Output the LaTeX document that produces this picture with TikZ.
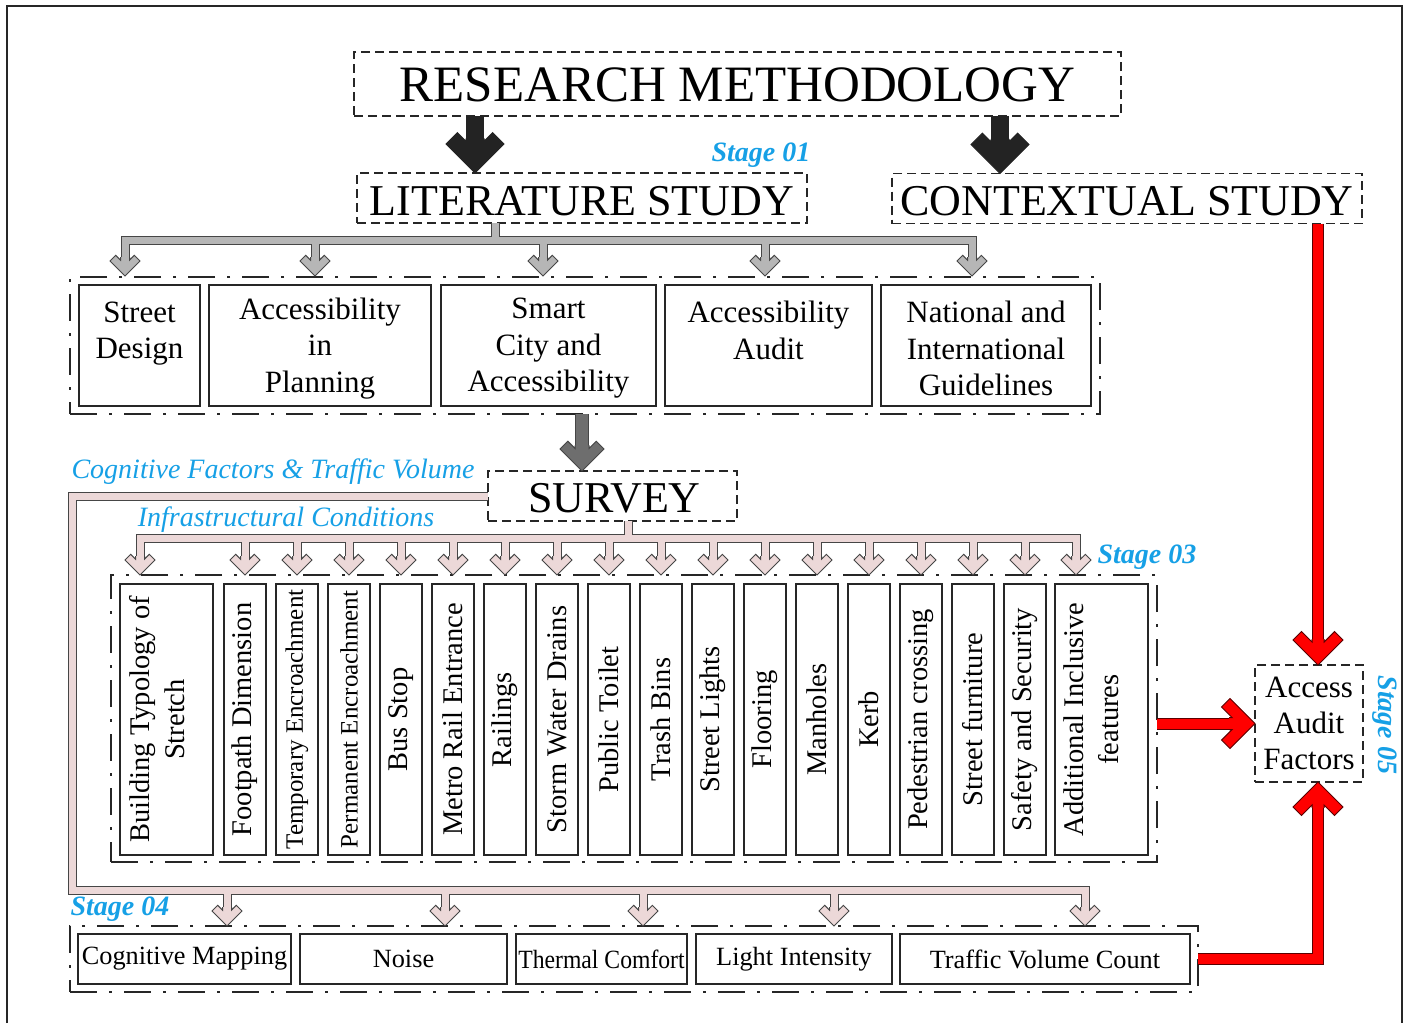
\documentclass[tikz,border=0pt]{standalone}
\usepackage{fontspec}
\setmainfont{Liberation Serif}
\usepackage{graphicx}
\usetikzlibrary{calc}
\definecolor{stageblue}{RGB}{22,160,230}
\definecolor{grayfill}{RGB}{182,182,182}
\definecolor{darkfill}{RGB}{110,110,110}
\definecolor{pinkfill}{RGB}{236,216,216}
\definecolor{outl}{RGB}{70,70,70}
\definecolor{redfill}{RGB}{255,0,0}
\definecolor{redline}{RGB}{90,0,0}
\definecolor{blk}{RGB}{35,35,35}
\tikzset{
  pics/chev/.style n args={5}{code={%
    \pgfmathsetmacro\chH{#1}%
    \pgfmathsetmacro\chQ{#2/sqrt(2)}%
    \pgfmathsetmacro\chS{#3/2}%
    \pgfmathsetmacro\chN{#2*sqrt(2)+#3/2}%
    \pgfmathsetmacro\chT{\chN+3}%
    \fill[#4] (-\chS,-\chT) -- (-\chS,-\chN) -- ({-\chH+\chQ},{-\chH-\chQ}) -- (-\chH,-\chH) -- (0,0) -- (\chH,-\chH) -- ({\chH-\chQ},{-\chH-\chQ}) -- (\chS,-\chN) -- (\chS,-\chT) -- cycle;
    \draw[#5,line width=1pt,line join=miter] (-\chS,-\chT) -- (-\chS,-\chN) -- ({-\chH+\chQ},{-\chH-\chQ}) -- (-\chH,-\chH) -- (0,0) -- (\chH,-\chH) -- ({\chH-\chQ},{-\chH-\chQ}) -- (\chS,-\chN) -- (\chS,-\chT);
  }},
  dbox/.style={draw=black!85, dash pattern=on 9pt off 5pt, line width=1.5pt, inner sep=0pt},
  ddbox/.style={draw=black!85, dash pattern=on 27pt off 12pt on 3pt off 12pt, line width=1.8pt, inner sep=0pt},
  ibox/.style={draw=black!85, line width=2pt, inner sep=0pt, minimum height=121pt},
  itext/.style={align=center, font=\fontsize{31}{36.5}\selectfont},
  vbox/.style={draw=black!85, line width=2pt, inner sep=0pt},
  vtext/.style={rotate=90, align=center, font=\fontsize{28.5}{35}\selectfont},
  bbox/.style={draw=black!85, line width=2pt, inner sep=0pt, minimum height=50pt, font=\fontsize{26.3}{30}\selectfont},
  bigtext/.style={font=\fontsize{44}{48}\selectfont},
  stagelbl/.style={text=stageblue, font=\fontsize{28}{32}\selectfont\bfseries\itshape},
  bluelbl/.style={text=stageblue, font=\fontsize{28}{32}\selectfont\itshape},
  grayout/.style={draw=outl, line width=9pt, line join=miter},
  grayin/.style={draw=grayfill, line width=7pt, line join=miter},
  pinkout/.style={draw=outl, line width=9pt, line join=miter},
  pinkin/.style={draw=pinkfill, line width=7pt, line join=miter},
  redout/.style={draw=redline, line width=12pt, line join=miter},
  redin/.style={draw=redfill, line width=10pt, line join=miter},
  darkout/.style={draw=outl, line width=14pt},
  darkin/.style={draw=darkfill, line width=12pt},
}
\begin{document}
\begin{tikzpicture}[x=1pt,y=-1pt, every node/.style={inner sep=0pt, outer sep=0pt}]
\useasboundingbox (0,0) rectangle (1407,1023);
\fill[white] (0,0) rectangle (1407,1023);
\draw[line width=1.5pt, black!85] (7,1023) -- (7,6) -- (1402,6) -- (1402,1023);

% ---------- main boxes ----------
\node[dbox, minimum width=767pt, minimum height=64pt] (rm) at (737.5,84) {};
\node[font=\fontsize{51}{56}\selectfont] (rmt) at ([yshift=-1pt]rm.center) {RESEARCH METHODOLOGY};
\node[dbox, minimum width=450pt, minimum height=50pt] (lit) at (582,198) {};
\node[bigtext] (litt) at ([yshift=-3pt]lit.center) {LITERATURE STUDY};
\node[dbox, minimum width=470pt, minimum height=50pt] (ctx) at (1127,198.5) {};
\node[bigtext] (ctxt) at ([yshift=-2.5pt]ctx.center) {CONTEXTUAL STUDY};
\node[stagelbl] (s1) at (761,155) {Stage 01};

% ---------- literature group ----------
\node[ddbox, minimum width=1030pt, minimum height=137pt] (lg) at (585,345.5) {};
\node[ibox, minimum width=121pt] (sd) at (139.5,345.5) {};
\node[itext] (sdt) at ([yshift=-3pt]sd.center) {Street\\Design\\\mbox{}};
\node[ibox, minimum width=222pt] (aip) at (320,345.5) {};
\node[itext] (aipt) at ([yshift=-3pt]aip.center) {Accessibility\\in\\Planning};
\node[ibox, minimum width=215pt] (sca) at (548.5,345.5) {};
\node[itext] (scat) at ([yshift=-3pt]sca.center) {Smart\\City and\\Accessibility};
\node[ibox, minimum width=207pt] (aa) at (768.5,345.5) {};
\node[itext] (aat) at ([yshift=-3pt]aa.center) {Accessibility\\Audit\\\mbox{}};
\node[ibox, minimum width=210pt] (nig) at (986,345.5) {};
\node[itext] (nigt) at ([yshift=-3pt]nig.center) {National and\\International\\Guidelines};

% ---------- survey ----------
\node[dbox, minimum width=249pt, minimum height=50pt] (survey) at (612.5,496) {};
\node[bigtext] (surveyt) at ([xshift=2pt,yshift=-2pt]survey.center) {SURVEY};
\node[bluelbl] (cf) at (273,472) {Cognitive Factors \& Traffic Volume};
\node[bluelbl] (ic) at (286,520) {Infrastructural Conditions};
\node[stagelbl] (s3) at (1147,557) {Stage 03};

% ---------- infrastructure group ----------
\node[ddbox, minimum width=1046pt, minimum height=287pt] (ig) at (634,718.5) {};
\node[vbox, minimum width=93pt, minimum height=271pt] (v1) at (166.5,719.5) {};
\node[vtext] (vt1) at (157.5,719.5) {Building Typology of\\Stretch};
\foreach \i/\t in {2/Footpath Dimension, 3/{\fontsize{25}{28}\selectfont Temporary Encroachment}, 4/{\fontsize{25}{28}\selectfont Permanent Encroachment}, 5/Bus Stop, 6/Metro Rail Entrance, 7/Railings, 8/Storm Water Drains, 9/Public Toilet, 10/Trash Bins, 11/Street Lights, 12/Flooring, 13/Manholes, 14/Kerb, 15/Pedestrian crossing, 16/Street furniture, 17/Safety and Security}{
  \node[vbox, minimum width=42pt, minimum height=271pt] (v\i) at ({245+52*(\i-2)},719.5) {};
  \node[vtext] (vt\i) at (v\i.center) {\t};
}
\node[vbox, minimum width=93pt, minimum height=271pt] (v18) at (1101.5,719.5) {};
\node[vtext] (vt18) at (1091,719.5) {Additional Inclusive\\features};

% ---------- bottom group ----------
\node[stagelbl] (s4) at (120,909) {Stage 04};
\node[ddbox, minimum width=1128pt, minimum height=66pt] (bg) at (634,959) {};
\node[bbox, minimum width=213pt] (cm) at (184.5,959) {Cognitive Mapping};
\node[bbox, minimum width=207pt] (noise) at (403.5,959) {Noise};
\node[bbox, minimum width=171pt] (tc) at (601.5,959) {\scalebox{0.9}[1]{Thermal Comfort}};
\node[bbox, minimum width=196pt] (li) at (794,959) {Light Intensity};
\node[bbox, minimum width=290pt] (tvc) at (1045,959) {Traffic Volume Count};

% ---------- access audit ----------
\node[dbox, minimum width=108pt, minimum height=117pt, align=center, font=\fontsize{31}{36}\selectfont] (aaf) at (1309,723.5) {Access\\Audit\\Factors};
\node[stagelbl, rotate=-90] (s5) at (1385,725) {Stage 05};

% ---------- black arrows ----------
\coordinate (b1s) at ([xshift=-262.5pt]rm.south);
\coordinate (b1t) at (b1s |- lit.north);
\coordinate (b2s) at ([xshift=262.5pt]rm.south);
\coordinate (b2t) at (b2s |- ctx.north);
\draw[blk, line width=18pt] (b1s) -- ($(b1t)+(0,-29)$);
\draw[blk, line width=18pt] (b2s) -- ($(b2t)+(0,-29)$);
\pic at (b1t) {chev={29}{16}{18}{blk}{blk}};
\pic at (b2t) {chev={29}{16}{18}{blk}{blk}};

% ---------- gray branches ----------
\coordinate (gs) at ([xshift=-87pt]lit.south);
\coordinate (gbar) at (0,240);
\foreach \n/\x in {1/125,2/315,3/543,4/765,5/972} \coordinate (gt\n) at (\x,276);
\draw[grayout] (gs) -- (gs |- gbar);
\draw[grayout] ($(gt1)+(0,-13)$) -- (gt1 |- gbar) -- (gt5 |- gbar) -- ($(gt5)+(0,-13)$);
\foreach \n in {2,3,4} \draw[grayout] (gt\n |- gbar) -- ($(gt\n)+(0,-13)$);
\foreach \n in {1,...,5} \pic at (gt\n) {chev={15}{8}{9}{grayfill}{outl}};
\draw[grayin] (gs) -- (gs |- gbar);
\draw[grayin] ($(gt1)+(0,-13)$) -- (gt1 |- gbar) -- (gt5 |- gbar) -- ($(gt5)+(0,-13)$);
\foreach \n in {2,3,4} \draw[grayin] (gt\n |- gbar) -- ($(gt\n)+(0,-13)$);

% ---------- dark arrow to survey ----------
\coordinate (ds) at ([xshift=-3pt]lg.south);
\coordinate (dt) at (ds |- survey.north);
\draw[darkout] (ds) -- ($(dt)+(0,-21)$);
\pic at (dt) {chev={22}{11}{14}{darkfill}{outl}};
\draw[darkin] (ds) -- ($(dt)+(0,-21)$);

% ---------- pink branches (infrastructure) ----------
\coordinate (ps) at ([xshift=15.5pt]survey.south);
\coordinate (pbar) at (0,538);
\coordinate (pt1) at (140,575);
\foreach \i in {2,...,17} \coordinate (pt\i) at (v\i.north |- ig.north);
\coordinate (pt18) at (1076,575);
% ---------- pink branches (stage 04) ----------
\coordinate (lcol) at (72,0);
\coordinate (lbar) at (0,890);
\foreach \n/\x in {1/227,2/445,3/643,4/834,5/1085} \coordinate (bt\n) at (\x,926);

\draw[pinkout] (ps) -- (ps |- pbar);
\draw[pinkout] ($(pt1)+(0,-13)$) -- (pt1 |- pbar) -- (pt18 |- pbar) -- ($(pt18)+(0,-13)$);
\foreach \i in {2,...,17} \draw[pinkout] (pt\i |- pbar) -- ($(pt\i)+(0,-13)$);
\draw[pinkout] (survey.west) -- (survey.west -| lcol) -- (lcol |- lbar) -- (bt5 |- lbar) -- ($(bt5)+(0,-13)$);
\foreach \n in {1,...,4} \draw[pinkout] (bt\n |- lbar) -- ($(bt\n)+(0,-13)$);
\foreach \i in {1,...,18} \pic at (pt\i) {chev={15}{8}{9}{pinkfill}{outl}};
\foreach \n in {1,...,5} \pic at (bt\n) {chev={15}{8}{9}{pinkfill}{outl}};
\draw[pinkin] (ps) -- (ps |- pbar);
\draw[pinkin] ($(pt1)+(0,-13)$) -- (pt1 |- pbar) -- (pt18 |- pbar) -- ($(pt18)+(0,-13)$);
\foreach \i in {2,...,17} \draw[pinkin] (pt\i |- pbar) -- ($(pt\i)+(0,-13)$);
\draw[pinkin] (survey.west) -- (survey.west -| lcol) -- (lcol |- lbar) -- (bt5 |- lbar) -- ($(bt5)+(0,-13)$);
\foreach \n in {1,...,4} \draw[pinkin] (bt\n |- lbar) -- ($(bt\n)+(0,-13)$);

% ---------- red arrows ----------
\coordinate (r1s) at ([xshift=191pt]ctx.south);
\coordinate (r1t) at (r1s |- aaf.north);
\coordinate (r2s) at (ig.east |- aaf.west);
\coordinate (r3t) at (aaf.south -| r1s);
\draw[redout] (r1s) -- ($(r1t)+(0,-21)$);
\draw[redout] (r2s) -- ($(aaf.west)+(-21,0)$);
\draw[redout] (bg.east) -- (bg.east -| r1s) -- ($(r3t)+(0,21)$);
\pic at (r1t) {chev={25}{12}{12}{redfill}{redline}};
\pic[rotate=90] at (aaf.west) {chev={25}{12}{12}{redfill}{redline}};
\pic[rotate=180] at (r3t) {chev={25}{12}{12}{redfill}{redline}};
\draw[redin] (r1s) -- ($(r1t)+(0,-21)$);
\draw[redin] (r2s) -- ($(aaf.west)+(-21,0)$);
\draw[redin] (bg.east) -- (bg.east -| r1s) -- ($(r3t)+(0,21)$);
\end{tikzpicture}
\end{document}
